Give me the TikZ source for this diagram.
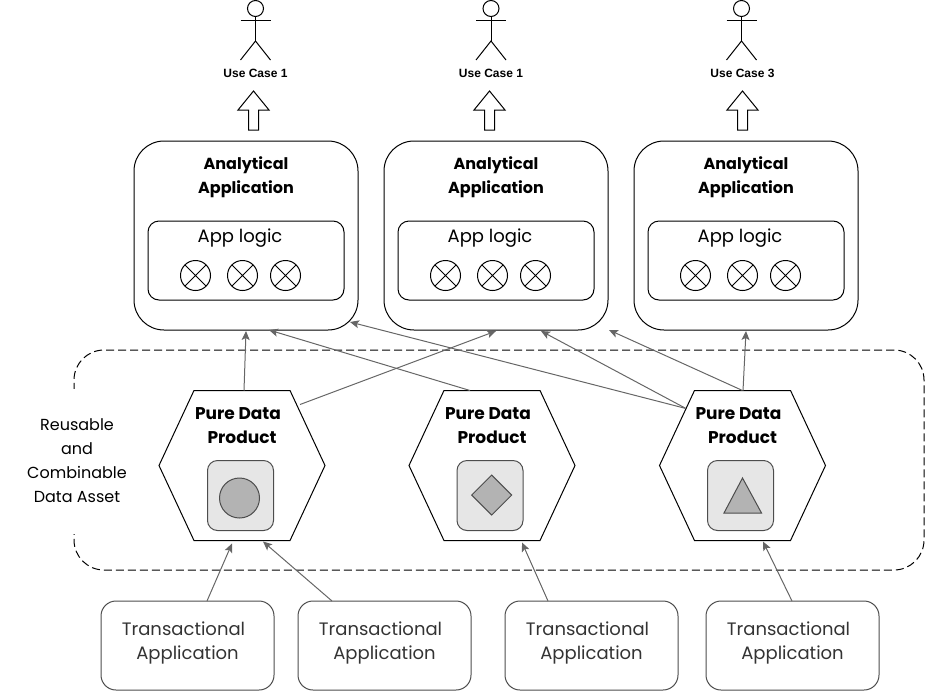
\documentclass[tikz,border=0pt]{standalone}
\usepackage{fontspec}
\setmainfont{Liberation Sans}
\newfontfamily\hand{Poppins}
\usetikzlibrary{shapes.geometric,shapes.symbols,shapes.misc,calc,arrows.meta}
\definecolor{conn}{HTML}{666666}
\definecolor{chip}{HTML}{E6E6E6}
\definecolor{mark}{HTML}{B3B3B3}
\definecolor{soft}{HTML}{4D4D4D}
\definecolor{softtext}{HTML}{333333}
\tikzset{
  every node/.style={inner sep=0pt,outer sep=0pt},
  appbox/.style={draw=black,rounded corners=30pt,minimum width=224pt,minimum height=189pt},
  logicbox/.style={draw=black,rounded corners=11pt,minimum width=196pt,minimum height=79pt},
  txbox/.style={draw=soft,rounded corners=15pt,minimum width=173pt,minimum height=89pt},
  hexbox/.style={draw=black,signal,signal to=east and west,signal pointer angle=130,minimum width=166pt,minimum height=150pt},
  chipbox/.style={draw=soft,fill=chip,rounded corners=10pt,minimum width=66pt,minimum height=70pt},
  ring/.style={draw=black,circle,minimum size=30pt},
  handtext/.style={align=center,font=\hand\fontsize{16}{24}\selectfont},
  logictext/.style={align=center,font=\hand\fontsize{18}{24}\selectfont},
  headtext/.style={align=center,font=\hand\bfseries\fontsize{16}{24}\selectfont},
  hextext/.style={align=center,font=\hand\bfseries\fontsize{17}{24}\selectfont},
  txtext/.style={align=center,text=softtext,font=\hand\fontsize{18}{24}\selectfont},
  usecase/.style={font=\bfseries\fontsize{12}{14}\selectfont},
  flow/.style={draw=conn,-{Stealth[length=9pt,width=8pt,inset=2pt]}},
  bigup/.style={draw=black,fill=white,line width=1pt},
  actorline/.style={draw=black,line width=1pt},
}
\newcommand{\actor}[2]{% name, x
  \node[ring,minimum size=16pt] (#1h) at (#2,8.5) {};
  \coordinate (#1n) at (#2,41);
  \draw[actorline] (#1h.south) -- (#1n);
  \draw[actorline] (#2-15,20) -- (#2+15,20);
  \draw[actorline] (#2-15,60) -- (#1n) -- (#2+15,60);
}
\newcommand{\ballcross}[2]{% name, position
  \node[ring] (#1) at (#2) {};
  \draw (#1.45) -- (#1.225) (#1.135) -- (#1.315);
}
\newcommand{\blockup}[1]{% x
  \draw[bigup] (#1,91) -- (#1+15.5,110) -- (#1+5,110) -- (#1+5,130) -- (#1-5,130) -- (#1-5,110) -- (#1-15.5,110) -- cycle;
}
\begin{document}
\begin{tikzpicture}[x=1pt,y=-1pt,line width=1pt]
\useasboundingbox (0,0) rectangle (925,691);
% container
\node[draw=black,dashed,dash pattern=on 8pt off 4pt,rounded corners=30pt,minimum width=850pt,minimum height=220pt] (pool) at (499,460) {};
\node[fill=white,minimum width=110pt,minimum height=145pt,align=center] (poollabel) at (77,461) {};
\node[handtext] (poollabeltext) at (77,461) {Reusable\\and\\Combinable\\Data Asset};
% actors
\actor{ua}{255.5}
\actor{ub}{491}
\actor{uc}{741.5}
\node[usecase] (ca) at (255.5,73.5) {Use Case 1};
\node[usecase] (cb) at (491,73.5) {Use Case 1};
\node[usecase] (cc) at (742.5,73.5) {Use Case 3};
% block arrows
\blockup{253.5}
\blockup{489.5}
\blockup{742.5}
% applications
\foreach \n/\x/\o in {a/246/0,b/496/250,c/746/500}{
  \node[appbox] (app\n) at (\x,235.5) {};
  \node[headtext] (title\n) at (\x,177.5) {Analytical\\Application};
  \node[logicbox] (logic\n) at (\x,260.5) {};
  \node[logictext] (logictext\n) at (\x-6,238) {App logic};
  \ballcross{x1\n}{195.5+\o,275.5}
  \ballcross{x2\n}{242.5+\o,275.5}
  \ballcross{x3\n}{285.5+\o,275.5}
}
% data products
\foreach \n/\x in {a/242,b/492,c/742.5}{
  \node[hexbox] (hex\n) at (\x,465.5) {};
  \node[hextext] (htext\n) at (\x-4,426) {Pure Data\\\hspace*{8pt}Product};
}
\node[chipbox] (chipa) at (240.5,495.5) {};
\node[chipbox] (chipb) at (490,495.5) {};
\node[chipbox] (chipc) at (740.5,495.5) {};
\node[draw=black!70,fill=mark,circle,minimum size=40pt] (marka) at (239.5,498) {};
\node[draw=black!70,fill=mark,diamond,minimum size=40pt] (markb) at (491.7,495) {};
\draw[draw=black!70,fill=mark] (742.5,478) -- (761.5,513) -- (724,513) -- cycle;
% transactional
\foreach \n/\x in {a/187.5,b/384.5,c/591.5,d/792.5}{
  \node[txtext] (txtext\n) at (\x-4,642.5) {Transactional\\\hspace*{8pt}Application};
  \node[txbox] (tx\n) at (\x,645.5) {};
}
% connectors up
\draw[flow] ([xshift=2pt]hexa.north) -- ([xshift=0pt,yshift=-1pt]appa.south);
\draw[flow] ([xshift=58pt,yshift=-14pt]hexa.north) -- ([yshift=-1pt]appb.south);
\draw[flow] ([xshift=-22pt]hexb.north) -- ([xshift=23pt]appa.south);
\draw[flow] ([xshift=-56.5pt,yshift=-18pt]hexc.north) -- ([xshift=104pt,yshift=8pt]appa.south);
\draw[flow] ([xshift=-56.5pt,yshift=-18pt]hexc.north) -- ([xshift=45pt,yshift=-1pt]appb.south);
\draw[flow] ([xshift=0pt]hexc.north) -- ([xshift=113pt]appb.south);
\draw[flow] ([xshift=0.5pt]hexc.north) -- ([yshift=-1pt]appc.south);
\draw[flow] ([xshift=19.5pt]txa.north) -- ([xshift=-10pt,yshift=-3pt]hexa.south);
\draw[flow] ([xshift=-52.5pt]txb.north) -- ([xshift=21pt,yshift=-1pt]hexa.south);
\draw[flow] ([xshift=-43.5pt]txc.north) -- ([xshift=30pt,yshift=-2pt]hexb.south);
\draw[flow] ([xshift=-0.5pt]txd.north) -- ([xshift=20.5pt,yshift=-1pt]hexc.south);
\end{tikzpicture}
\end{document}
